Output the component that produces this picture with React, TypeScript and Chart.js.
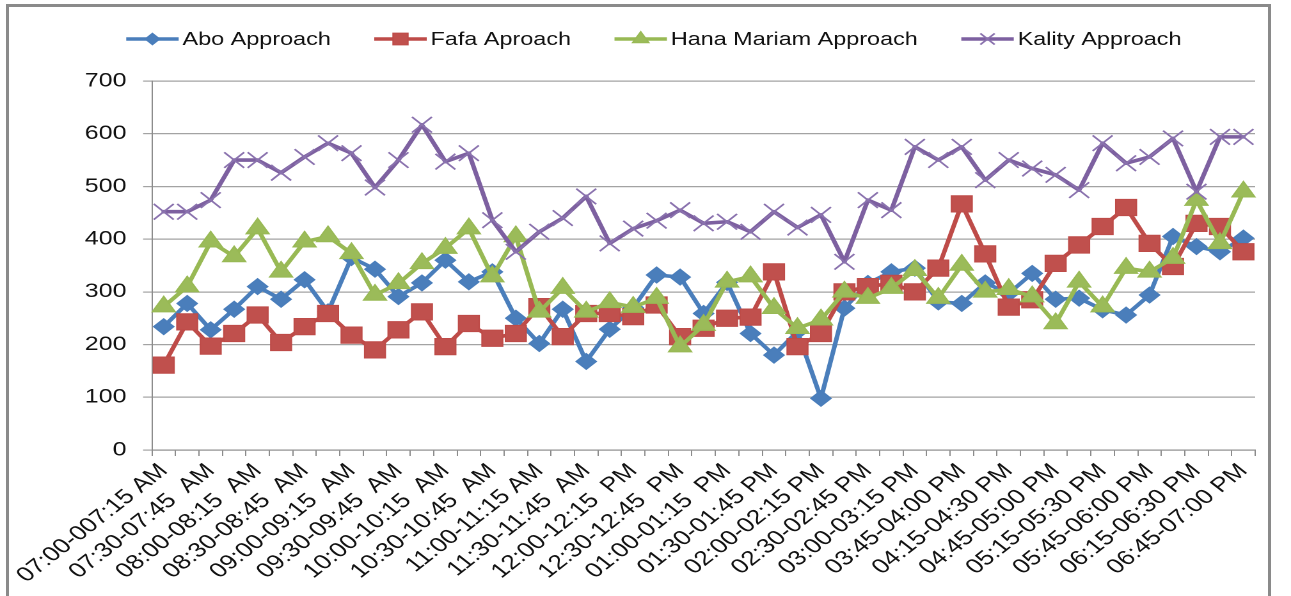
import React, { useEffect, useRef } from 'react';
import { Chart, registerables } from 'chart.js';

Chart.register(...registerables);

// ---------- data ----------
const categories = [
  '07:00-007:15 AM', '07:15-07:30 AM', '07:30-07:45  AM', '07:45-08:00 AM',
  '08:00-08:15  AM', '08:15-08:30 AM', '08:30-08:45  AM', '08:45-09:00 AM',
  '09:00-09:15  AM', '09:15-09:30 AM', '09:30-09:45  AM', '09:45-10:00 AM',
  '10:00-10:15  AM', '10:15-10:30 AM', '10:30-10:45  AM', '10:45-11:00 AM',
  '11:00-11:15 AM', '11:15-11:30 AM', '11:30-11:45  AM', '11:45-12:00 PM',
  '12:00-12:15  PM', '12:15-12:30 PM', '12:30-12:45  PM', '12:45-01:00 PM',
  '01:00-01:15  PM', '01:15-01:30 PM', '01:30-01:45 PM', '01:45-02:00 PM',
  '02:00-02:15 PM', '02:15-02:30 PM', '02:30-02:45 PM', '02:45-03:00 PM',
  '03:00-03:15 PM', '03:30-03:45 PM', '03:45-04:00 PM', '04:00-04:15 PM',
  '04:15-04:30 PM', '04:30-04:45 PM', '04:45-05:00 PM', '05:00-05:15 PM',
  '05:15-05:30 PM', '05:30-05:45 PM', '05:45-06:00 PM', '06:00-06:15 PM',
  '06:15-06:30 PM', '06:30-06:45 PM', '06:45-07:00 PM',
];

const aboApproach = [
  234, 278, 228, 267, 310, 286, 323, 262, 365, 343, 291, 317, 360, 319, 338, 250,
  202, 267, 168, 229, 270, 332, 328, 259, 318, 221, 180, 225, 98, 269, 316, 338,
  345, 281, 278, 317, 297, 335, 286, 288, 266, 256, 294, 405, 386, 376, 402,
];

const fafaAproach = [
  161, 243, 197, 221, 256, 204, 234, 259, 218, 190, 228, 262, 196, 240, 212, 221,
  272, 215, 259, 259, 253, 275, 215, 231, 250, 252, 338, 196, 221, 300, 310, 316,
  300, 345, 467, 372, 271, 285, 354, 389, 424, 460, 392, 348, 430, 424, 376,
];

const hanaMariamApproach = [
  272, 310, 395, 367, 420, 338, 395, 405, 373, 294, 316, 354, 383, 420, 329, 405,
  262, 307, 262, 280, 271, 288, 196, 237, 319, 329, 269, 231, 247, 300, 288, 307,
  341, 288, 351, 300, 305, 291, 240, 319, 272, 345, 338, 364, 474, 392, 490,
];

const kalityApproach = [
  452, 452, 474, 550, 550, 526, 556, 582, 563, 498, 550, 617, 547, 563, 436, 376,
  414, 440, 481, 392, 420, 435, 455, 430, 433, 414, 452, 422, 446, 357, 474, 455,
  575, 550, 575, 512, 550, 534, 522, 493, 582, 544, 556, 591, 490, 594, 594,
];

const yTickValues = [0, 100, 200, 300, 400, 500, 600, 700];

// ---------- layout ----------
const CSS_W = 1291;
const CSS_H = 596;
const W = 1009; // internal width, stretched horizontally to CSS_W
const H = 596;
const FONT = '"Liberation Sans", Arial, sans-serif';

function drawMarker(
  ctx: CanvasRenderingContext2D,
  style: string,
  x: number,
  y: number,
  r: number,
  fill: string,
  stroke: string,
  bw: number
) {
  ctx.save();
  ctx.fillStyle = fill;
  ctx.strokeStyle = stroke;
  ctx.lineWidth = bw;
  ctx.beginPath();
  if (style === 'rectRot') {
    ctx.moveTo(x, y - r);
    ctx.lineTo(x + r, y);
    ctx.lineTo(x, y + r);
    ctx.lineTo(x - r, y);
    ctx.closePath();
    ctx.fill();
    ctx.stroke();
  } else if (style === 'rect') {
    const s = Math.SQRT1_2 * r;
    ctx.rect(x - s, y - s, 2 * s, 2 * s);
    ctx.fill();
    ctx.stroke();
  } else if (style === 'triangle') {
    const hw = r * Math.sin(Math.PI / 3);
    ctx.moveTo(x, y - r);
    ctx.lineTo(x + hw, y + r / 2);
    ctx.lineTo(x - hw, y + r / 2);
    ctx.closePath();
    ctx.fill();
    ctx.stroke();
  } else if (style === 'crossRot') {
    const o = Math.SQRT1_2 * r;
    ctx.moveTo(x - o, y - o);
    ctx.lineTo(x + o, y + o);
    ctx.moveTo(x + o, y - o);
    ctx.lineTo(x - o, y + o);
    ctx.stroke();
  }
  ctx.restore();
}

const legendPlugin = {
  id: 'excelLegend',
  afterDraw(chart: any) {
    const ctx: CanvasRenderingContext2D = chart.ctx;
    ctx.save();
    ctx.font = `18.3px ${FONT}`;
    ctx.textBaseline = 'middle';
    ctx.textAlign = 'left';
    const y = 39;
    const icon = 41;
    const gapT = 3;
    const gapI = 34;
    const items = chart.data.datasets.map((ds: any) => ({
      ds,
      w: icon + gapT + ctx.measureText(ds.label).width,
    }));
    const total =
      items.reduce((s: number, it: any) => s + it.w, 0) + gapI * (items.length - 1);
    let x = 511 - total / 2;
    for (const it of items) {
      const ds = it.ds;
      ctx.strokeStyle = ds.borderColor;
      ctx.lineWidth = ds.borderWidth;
      ctx.lineCap = 'butt';
      ctx.beginPath();
      ctx.moveTo(x, y);
      ctx.lineTo(x + icon, y);
      ctx.stroke();
      drawMarker(
        ctx,
        ds.pointStyle,
        x + icon / 2,
        y,
        ds.pointRadius * 0.72,
        ds.pointBackgroundColor,
        ds.pointBorderColor,
        ds.pointBorderWidth
      );
      ctx.fillStyle = '#111';
      ctx.fillText(ds.label, x + icon + gapT, y + 1);
      x += it.w + gapI;
    }
    ctx.restore();
  },
};

export default function App() {
  const ref = useRef<HTMLCanvasElement | null>(null);

  useEffect(() => {
    if (!ref.current) return;
    const lineCommon = {
      borderWidth: 3.6,
      tension: 0,
      borderJoinStyle: 'round' as const,
      borderCapStyle: 'round' as const,
      pointBorderWidth: 1,
    };
    const chart = new Chart(ref.current, {
      type: 'line',
      data: {
        labels: categories,
        datasets: [
          {
            ...lineCommon,
            label: 'Abo Approach',
            data: aboApproach,
            borderColor: '#4A7EBB',
            backgroundColor: '#4A7EBB',
            pointStyle: 'rectRot',
            pointRadius: 8,
            pointHoverRadius: 8,
            pointBackgroundColor: '#4A7EBB',
            pointBorderColor: '#4A7EBB',
            order: 4,
          },
          {
            ...lineCommon,
            label: 'Fafa Aproach',
            data: fafaAproach,
            borderColor: '#BE4B48',
            backgroundColor: '#C0504D',
            pointStyle: 'rect',
            pointRadius: 11.5,
            pointHoverRadius: 11.5,
            pointBackgroundColor: '#C0504D',
            pointBorderColor: '#BE4B48',
            order: 3,
          },
          {
            ...lineCommon,
            label: 'Hana Mariam Approach',
            data: hanaMariamApproach,
            borderColor: '#98B954',
            backgroundColor: '#9BBB59',
            pointStyle: 'triangle',
            pointRadius: 10.5,
            pointHoverRadius: 10.5,
            pointBackgroundColor: '#9BBB59',
            pointBorderColor: '#98B954',
            order: 2,
          },
          {
            ...lineCommon,
            label: 'Kality Approach',
            data: kalityApproach,
            borderColor: '#7D60A0',
            backgroundColor: '#8064A2',
            pointStyle: 'crossRot',
            pointRadius: 11,
            pointHoverRadius: 11,
            pointBackgroundColor: '#8A72AE',
            pointBorderColor: '#8A72AE',
            pointBorderWidth: 1.6,
            order: 1,
          },
        ],
      },
      options: {
        responsive: false,
        maintainAspectRatio: false,
        animation: false,
        devicePixelRatio: 2,
        events: [],
        layout: { padding: { left: 0, right: 28, top: 81, bottom: 0 } },
        plugins: {
          legend: { display: false },
          tooltip: { enabled: false },
          title: { display: false },
        },
        scales: {
          x: {
            type: 'category',
            offset: true,
            grid: {
              offset: true,
              drawOnChartArea: false,
              drawTicks: true,
              tickLength: 6,
              color: '#8c8c8c',
              lineWidth: 1,
            },
            border: { display: true, color: '#8c8c8c', width: 1 },
            ticks: {
              autoSkip: false,
              maxRotation: 45,
              minRotation: 45,
              padding: 3,
              color: '#111',
              font: { family: FONT, size: 20.5 },
              callback: (_v: any, i: number) => (i % 2 === 0 ? categories[i] : ''),
            },
            afterFit: (s: any) => {
              s.height = H - 450;
            },
          },
          y: {
            min: 0,
            max: 700,
            afterBuildTicks: (s: any) => {
              s.ticks = yTickValues.map((v) => ({ value: v }));
            },
            ticks: {
              padding: 13,
              color: '#111',
              font: { family: FONT, size: 19.5 },
            },
            grid: {
              color: '#a3a3a3',
              lineWidth: 1.2,
              drawTicks: true,
              tickLength: 7,
            },
            border: { display: true, color: '#8c8c8c', width: 1 },
            afterFit: (s: any) => {
              s.width = 118.8;
            },
          },
        },
      },
      plugins: [legendPlugin],
    } as any);
    return () => chart.destroy();
  }, []);

  return (
    <div
      style={{
        position: 'absolute',
        left: 0,
        top: 0,
        width: CSS_W,
        height: CSS_H,
        overflow: 'hidden',
        background: '#fff',
      }}
    >
      <canvas
        ref={ref}
        width={W}
        height={H}
        style={{ position: 'absolute', left: 0, top: 0, width: `${CSS_W}px`, height: `${CSS_H}px` }}
      />
      <div
        style={{
          position: 'absolute',
          left: 6,
          top: 4,
          width: 1265,
          height: 660,
          border: '3px solid #8a8a8a',
          boxSizing: 'border-box',
          pointerEvents: 'none',
        }}
      />
    </div>
  );
}
